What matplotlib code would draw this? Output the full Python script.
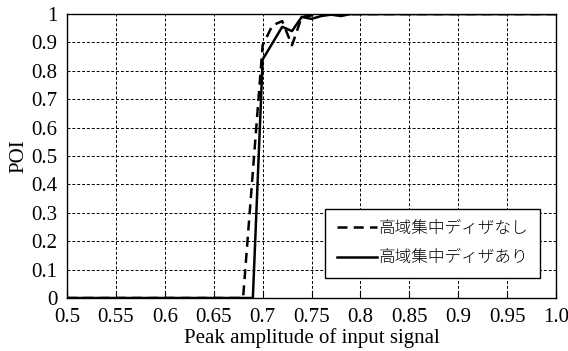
import matplotlib
matplotlib.use("Agg")
import matplotlib.pyplot as plt

# Data
amp_without = [0.50, 0.68, 0.70, 0.71, 0.72, 0.73, 0.74, 0.75, 0.76, 0.77, 0.78, 0.79, 0.80, 0.85, 0.90, 0.95, 1.00]
poi_without = [0.0, 0.0, 0.89, 0.96, 0.975, 0.89, 0.99, 0.995, 1.0, 1.0, 1.0, 1.0, 1.0, 1.0, 1.0, 1.0, 1.0]

amp_with = [0.50, 0.69, 0.70, 0.72, 0.73, 0.74, 0.75, 0.76, 0.77, 0.78, 0.79, 0.80, 0.85, 0.90, 0.95, 1.00]
poi_with = [0.0, 0.0, 0.84, 0.955, 0.94, 0.99, 0.983, 0.993, 0.998, 0.993, 1.0, 1.0, 1.0, 1.0, 1.0, 1.0]

label_without = "高域集中ディザなし"
label_with = "高域集中ディザあり"

xticks = [0.5, 0.55, 0.6, 0.65, 0.7, 0.75, 0.8, 0.85, 0.9, 0.95, 1.0]
xticklabels = ["0.5", "0.55", "0.6", "0.65", "0.7", "0.75", "0.8", "0.85", "0.9", "0.95", "1.0"]
yticks = [0, 0.1, 0.2, 0.3, 0.4, 0.5, 0.6, 0.7, 0.8, 0.9, 1.0]
yticklabels = ["0", "0.1", "0.2", "0.3", "0.4", "0.5", "0.6", "0.7", "0.8", "0.9", "1"]

plt.rcParams['font.family'] = ['Liberation Serif', 'Noto Sans CJK JP']

fig = plt.figure(figsize=(5.68, 3.51), dpi=100)
ax = fig.add_axes([0.118, 0.151, 0.861, 0.809])

ax.plot(amp_without, poi_without, color='black', linestyle=(0, (4, 2.5)), linewidth=1.8, label=label_without)
ax.plot(amp_with, poi_with, color='black', linestyle='-', linewidth=1.8, label=label_with)

ax.set_xlim(0.5, 1.0)
ax.set_ylim(0, 1.0)
ax.set_xticks(xticks)
ax.set_xticklabels(xticklabels, fontsize=15)
ax.set_yticks(yticks)
ax.set_yticklabels(yticklabels, fontsize=15)
ax.tick_params(axis='x', direction='in', length=5, width=0.8, top=False, pad=7)
ax.tick_params(axis='y', direction='in', length=0, right=False, pad=7)
ax.grid(True, color='black', linestyle=(0, (3, 2)), linewidth=0.7)
for s in ax.spines.values():
    s.set_linewidth(1.0)
    s.set_color('black')

ax.set_xlabel("Peak amplitude of input signal", fontsize=15, labelpad=1)
ax.set_ylabel("POI", fontsize=15, labelpad=2)

leg = ax.legend(loc='lower right', bbox_to_anchor=(0.967, 0.07), fontsize=12, frameon=True, fancybox=False,
                edgecolor='black', framealpha=1.0, handlelength=2.4, handletextpad=0.1,
                borderpad=0.7, labelspacing=0.8, borderaxespad=0.0)
leg.get_frame().set_linewidth(1.0)
for t in leg.get_texts():
    t.set_fontweight('light')

fig.savefig("out.png", dpi=100)
